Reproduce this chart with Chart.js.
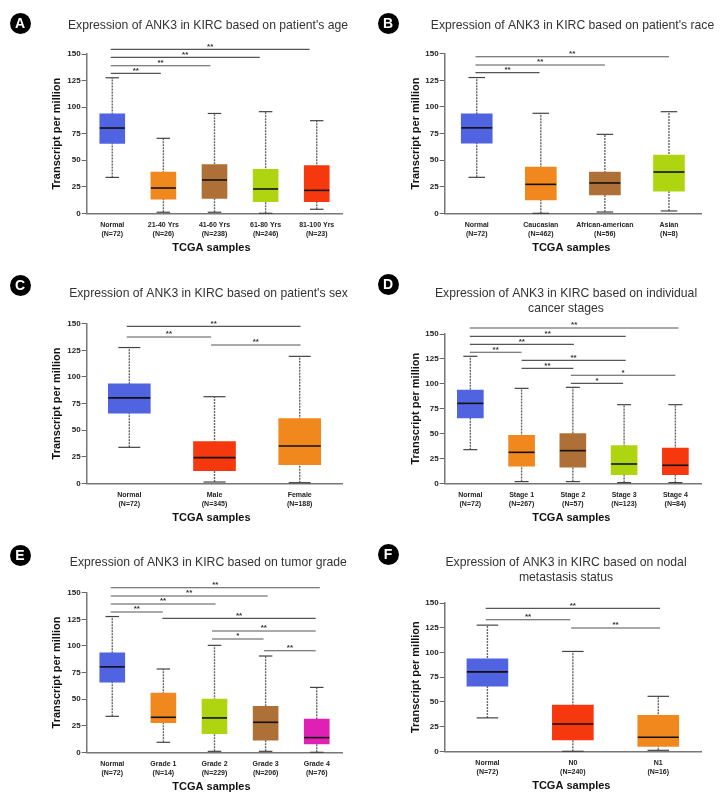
<!DOCTYPE html>
<html>
<head>
<meta charset="utf-8">
<script src="https://cdn.jsdelivr.net/npm/chart.js@4"></script>
<style>
html,body{margin:0;padding:0;background:#fff;width:724px;height:800px;overflow:hidden}
#page{position:relative;width:724px;height:800px;overflow:hidden;filter:blur(0.3px)}
canvas{position:absolute}
.badge{position:absolute;width:21px;height:21px;border-radius:50%;background:#000;color:#fff;font:bold 14px/21px "Liberation Sans",Arial,sans-serif;text-align:center}
</style>
</head>
<body>
<div id="page"></div>
<script>
const yTicks = [0, 25, 50, 75, 100, 125, 150];
const BLUE = '#5063E0', ORANGE = '#F0881E', BROWN = '#AE7036', LIME = '#AFD510', RED = '#F5380E', MAGENTA = '#E020B5';

// A: age
const ageTitle = ["Expression of ANK3 in KIRC based on patient's age"];
const ageCats = [['Normal','(N=72)'],['21-40 Yrs','(N=26)'],['41-60 Yrs','(N=238)'],['61-80 Yrs','(N=246)'],['81-100 Yrs','(N=23)']];
const ageLow = [33.8, 1, 1, 0, 3.8];
const ageQ1  = [65.8, 13.2, 14.1, 11, 11];
const ageMed = [80.3, 23.8, 31.4, 22.9, 21.6];
const ageQ3  = [93.6, 38.9, 45.8, 41.4, 44.9];
const ageHigh= [127.6, 70.6, 94, 95.7, 87.2];
const ageColors = [BLUE, ORANGE, BROWN, LIME, RED];
const ageSig = [[-0.03,3.86,154.4,'**'],[-0.03,2.885,146.8,'**'],[-0.03,1.92,139,'**'],[-0.03,0.95,131.8,'**']];

// B: race
const raceTitle = ["Expression of ANK3 in KIRC based on patient's race"];
const raceCats = [['Normal','(N=72)'],['Caucasian','(N=462)'],['African-american','(N=56)'],['Asian','(N=8)']];
const raceLow = [33.8, 0, 1.2, 2.2];
const raceQ1  = [65.8, 12.5, 17.2, 20.7];
const raceMed = [80.3, 27.2, 28.5, 38.8];
const raceQ3  = [93.6, 43.5, 38.8, 54.8];
const raceHigh= [127.6, 94, 74.2, 95.5];
const raceColors = [BLUE, ORANGE, BROWN, LIME];
const raceSig = [[-0.02,3.0,147.2,'**'],[-0.02,2.0,139.4,'**'],[-0.02,0.98,132.2,'**']];

// C: sex
const sexTitle = ["Expression of ANK3 in KIRC based on patient's sex"];
const sexCats = [['Normal','(N=72)'],['Male','(N=345)'],['Female','(N=188)']];
const sexLow = [33.8, 1.2, 0.6];
const sexQ1  = [65.8, 11.9, 17.5];
const sexMed = [80.3, 24.1, 35];
const sexQ3  = [93.6, 39.1, 60.8];
const sexHigh= [127.6, 81.4, 119.3];
const sexColors = [BLUE, RED, ORANGE];
const sexSig = [[-0.03,2.01,147.5,'**'],[-0.03,0.96,137.5,'**'],[0.96,2.01,130,'**']];

// D: stage
const stageTitle = ['Expression of ANK3 in KIRC based on individual','cancer stages'];
const stageCats = [['Normal','(N=72)'],['Stage 1','(N=267)'],['Stage 2','(N=57)'],['Stage 3','(N=123)'],['Stage 4','(N=84)']];
const stageLow = [33.8, 1.7, 1.7, 0.7, 0.7];
const stageQ1  = [65.8, 17.1, 16.1, 8.7, 8.7];
const stageMed = [80.3, 31.1, 32.8, 19.4, 18.1];
const stageQ3  = [93.6, 48.2, 49.9, 37.8, 35.5];
const stageHigh= [127.6, 95.4, 96.4, 79, 79];
const stageColors = [BLUE, ORANGE, BROWN, LIME, RED];
const stageSig = [[-0.01,4.06,156,'**'],[-0.01,3.03,147.6,'**'],[-0.01,2.02,139.6,'**'],[-0.01,1.0,131.6,'**'],
                  [1,3.03,123.5,'**'],[1,2.01,115.5,'**'],[1.96,4.0,108.5,'*'],[1.96,2.98,100.4,'*']];

// E: grade
const gradeTitle = ['Expression of ANK3 in KIRC based on tumor grade'];
const gradeCats = [['Normal','(N=72)'],['Grade 1','(N=14)'],['Grade 2','(N=229)'],['Grade 3','(N=206)'],['Grade 4','(N=76)']];
const gradeLow = [33.8, 9.4, 0.9, 0.9, 0];
const gradeQ1  = [65.8, 27.9, 17.5, 11.3, 7.8];
const gradeMed = [80.3, 32.9, 32.3, 28.2, 13.8];
const gradeQ3  = [93.6, 55.7, 50.1, 43.2, 31.3];
const gradeHigh= [127.6, 78.3, 100.5, 90.5, 61];
const gradeColors = [BLUE, ORANGE, LIME, BROWN, MAGENTA];
const gradeSig = [[-0.03,4.06,154.7,'**'],[-0.03,3.04,146.9,'**'],[-0.03,2.02,139.4,'**'],[-0.03,0.99,131.8,'**'],
                  [0.98,3.98,125.9,'**'],[1.95,3.98,114,'**'],[1.95,2.96,106.5,'*'],[2.97,3.98,95.5,'**']];

// F: nodal
const nodalTitle = ['Expression of ANK3 in KIRC based on nodal','metastasis status'];
const nodalCats = [['Normal','(N=72)'],['N0','(N=240)'],['N1','(N=16)']];
const nodalLow = [33.8, 0, 1];
const nodalQ1  = [65.8, 11.5, 5];
const nodalMed = [80.3, 27.6, 14.2];
const nodalQ3  = [93.6, 46.8, 36.4];
const nodalHigh= [127.6, 101, 55.6];
const nodalColors = [BLUE, RED, ORANGE];
const nodalSig = [[-0.02,2.02,144.6,'**'],[-0.02,0.97,133,'**'],[0.98,2.02,124.7,'**']];

const FONT = '"Liberation Sans", Arial, sans-serif';

const boxPlugin = {
  id: 'boxExtras',
  afterLayout(chart) {
    const o = chart.options.plugins.boxExtras;
    const t = chart.titleBlock;
    if (t) { t.left = o.titleX - 180; t.right = o.titleX + 180; }
  },
  beforeDatasetsDraw(chart) {
    const o = chart.options.plugins.boxExtras;
    const x = chart.scales.x, y = chart.scales.y, c = chart.ctx;
    c.save();
    o.low.forEach((lo, i) => {
      const px = x.getPixelForValue(i);
      c.strokeStyle = '#666'; c.lineWidth = 1.4; c.setLineDash([2, 1]);
      c.beginPath(); c.moveTo(px, y.getPixelForValue(lo)); c.lineTo(px, y.getPixelForValue(o.high[i])); c.stroke();
      c.setLineDash([]); c.strokeStyle = '#444'; c.lineWidth = 1.2;
      [lo, o.high[i]].forEach(v => {
        const py = y.getPixelForValue(v);
        c.beginPath(); c.moveTo(px - o.cap, py); c.lineTo(px + o.cap, py); c.stroke();
      });
    });
    c.restore();
  },
  afterDatasetsDraw(chart) {
    const o = chart.options.plugins.boxExtras;
    const x = chart.scales.x, y = chart.scales.y, c = chart.ctx;
    c.save();
    c.strokeStyle = '#111'; c.lineWidth = 1.6;
    o.med.forEach((m, i) => {
      const px = x.getPixelForValue(i), py = y.getPixelForValue(m);
      c.beginPath(); c.moveTo(px - o.box / 2, py); c.lineTo(px + o.box / 2, py); c.stroke();
    });
    c.strokeStyle = '#555'; c.lineWidth = 1.1; c.fillStyle = '#333';
    c.font = 'bold 8px ' + FONT; c.textAlign = 'center'; c.textBaseline = 'middle';
    o.sig.forEach(([a, b, v, s]) => {
      const x1 = x.getPixelForValue(a), x2 = x.getPixelForValue(b), py = y.getPixelForValue(v);
      c.beginPath(); c.moveTo(x1, py); c.lineTo(x2, py); c.stroke();
      c.fillText(s, (x1 + x2) / 2, py - 3);
    });
    c.restore();
  }
};

function panel(cfg) {
  const page = document.getElementById('page');
  const badge = document.createElement('div');
  badge.className = 'badge'; badge.textContent = cfg.letter;
  badge.style.left = (cfg.badge[0] - 10.5) + 'px'; badge.style.top = (cfg.badge[1] - 10.5) + 'px';
  page.appendChild(badge);

  const cv = document.createElement('canvas');
  cv.width = cfg.w; cv.height = cfg.h;
  cv.style.left = cfg.x + 'px'; cv.style.top = cfg.y + 'px';
  cv.style.width = cfg.w + 'px'; cv.style.height = cfg.h + 'px';
  page.appendChild(cv);

  const titleLH = 15, titleFont = 12.2;
  const titleTop = cfg.titleY - cfg.y - titleLH / 2;
  const titleBottom = (cfg.top - cfg.y) - titleTop - titleLH * cfg.title.length;
  const xTitleH = 41;

  new Chart(cv, {
    type: 'bar',
    data: {
      labels: cfg.cats,
      datasets: [{
        data: cfg.q1.map((v, i) => [v, cfg.q3[i]]),
        backgroundColor: cfg.colors,
        borderWidth: 0,
        barThickness: cfg.box
      }]
    },
    options: {
      responsive: false, maintainAspectRatio: false, animation: false,
      layout: { padding: { left: 0, top: 0, right: cfg.w - (cfg.right - cfg.x), bottom: cfg.h - (cfg.bottomY - cfg.y) - xTitleH } },
      plugins: {
        legend: { display: false },
        tooltip: { enabled: false },
        title: {
          display: true, text: cfg.title, color: '#333',
          font: { family: FONT, size: titleFont, weight: 'normal', lineHeight: titleLH / titleFont },
          padding: { top: titleTop, bottom: titleBottom }
        },
        boxExtras: {
          low: cfg.low, high: cfg.high, med: cfg.med, sig: cfg.sig,
          box: cfg.box, cap: cfg.box / 4 + 0.5, titleX: cfg.titleX - cfg.x
        }
      },
      scales: {
        x: {
          type: 'category',
          offset: true,
          afterFit(s) { s.height = xTitleH; },
          grid: { display: false, drawTicks: false },
          border: { display: true, color: '#777', width: 1.5 },
          ticks: { autoSkip: false, maxRotation: 0, minRotation: 0, padding: 8, color: '#222',
                   font: { family: FONT, size: 7, weight: 'bold', lineHeight: 1.19 } },
          title: { display: true, text: 'TCGA samples' + cfg.xTitlePad, color: '#111', padding: 0,
                   font: { family: FONT, size: 11, weight: 'bold', lineHeight: 1.2 } }
        },
        y: {
          min: 0, max: 150,
          afterFit(s) { s.width = cfg.axisX - cfg.x; },
          afterBuildTicks(s) { s.ticks = yTicks.map(v => ({ value: v })); },
          grid: { display: true, drawOnChartArea: false, drawTicks: true, tickLength: 5, color: '#666', lineWidth: 1 },
          border: { display: true, color: '#777', width: 1.5 },
          ticks: { padding: 1, color: '#222', font: { family: FONT, size: 8, weight: 'bold' } },
          title: { display: true, text: 'Transcript per million', color: '#111',
                   padding: { top: cfg.yTitleX - cfg.x - 6.2, bottom: 0 },
                   font: { family: FONT, size: 11, weight: 'bold', lineHeight: 1.2 } }
        }
      }
    },
    plugins: [boxPlugin]
  });
}

panel({ letter:'A', badge:[20,23.3], x:0, y:0, w:362, h:265, axisX:86.7, right:342.3, top:54, bottomY:213.3, titleX:208, titleY:25.3, yTitleX:56.7, xTitlePad:'  ',
  title:ageTitle, cats:ageCats, low:ageLow, q1:ageQ1, med:ageMed, q3:ageQ3, high:ageHigh, colors:ageColors, sig:ageSig, box:25 });
panel({ letter:'B', badge:[388,23.3], x:362, y:0, w:362, h:265, axisX:444.7, right:701, top:53.7, bottomY:213.3, titleX:572.5, titleY:25.3, yTitleX:415.3, xTitlePad:' ',
  title:raceTitle, cats:raceCats, low:raceLow, q1:raceQ1, med:raceMed, q3:raceQ3, high:raceHigh, colors:raceColors, sig:raceSig, box:31 });
panel({ letter:'C', badge:[20,285], x:0, y:265, w:362, h:265, axisX:86.7, right:342.3, top:323.7, bottomY:483.3, titleX:208.5, titleY:294, yTitleX:56.7, xTitlePad:'  ',
  title:sexTitle, cats:sexCats, low:sexLow, q1:sexQ1, med:sexMed, q3:sexQ3, high:sexHigh, colors:sexColors, sig:sexSig, box:42 });
panel({ letter:'D', badge:[388,284.5], x:362, y:265, w:362, h:265, axisX:444.7, right:701, top:334, bottomY:483.3, titleX:566, titleY:294, yTitleX:415.3, xTitlePad:' ',
  title:stageTitle, cats:stageCats, low:stageLow, q1:stageQ1, med:stageMed, q3:stageQ3, high:stageHigh, colors:stageColors, sig:stageSig, box:26 });
panel({ letter:'E', badge:[20,555.3], x:0, y:540, w:362, h:260, axisX:86.7, right:342.3, top:592.7, bottomY:752.3, titleX:208.3, titleY:562.7, yTitleX:56.7, xTitlePad:'  ',
  title:gradeTitle, cats:gradeCats, low:gradeLow, q1:gradeQ1, med:gradeMed, q3:gradeQ3, high:gradeHigh, colors:gradeColors, sig:gradeSig, box:25 });
panel({ letter:'F', badge:[388,554.7], x:362, y:540, w:362, h:260, axisX:444.7, right:701, top:603, bottomY:751.3, titleX:566, titleY:562.7, yTitleX:415.3, xTitlePad:' ',
  title:nodalTitle, cats:nodalCats, low:nodalLow, q1:nodalQ1, med:nodalMed, q3:nodalQ3, high:nodalHigh, colors:nodalColors, sig:nodalSig, box:41 });
</script>
</body>
</html>
